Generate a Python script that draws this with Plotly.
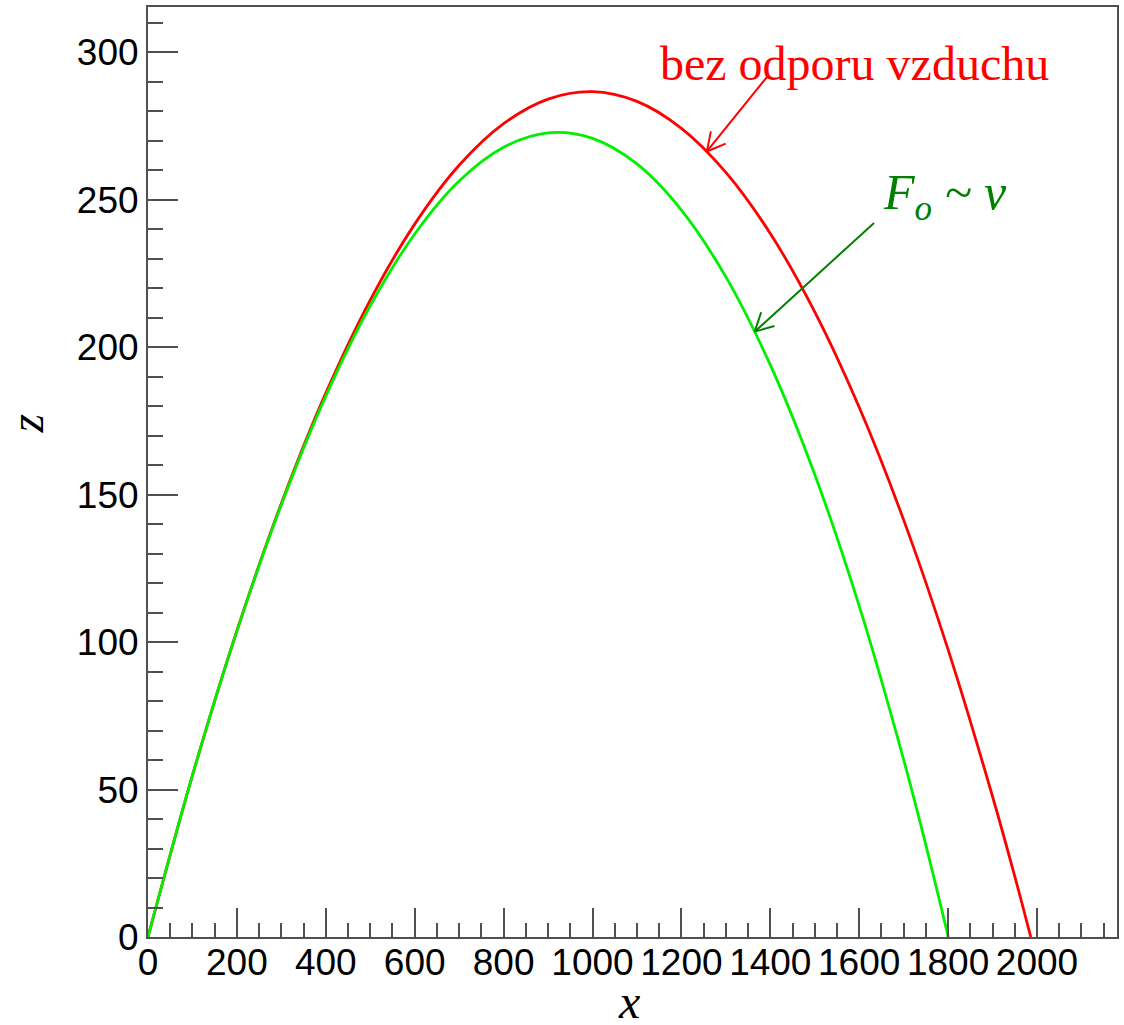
import plotly.graph_objects as go

# trajectory without air resistance (red)
x_red = [0, 100, 200, 300, 400, 500, 600, 700, 800, 900, 1000, 1100, 1200,
         1300, 1400, 1500, 1600, 1700, 1800, 1900, 1950, 1986]
z_red = [0, 54.83, 103.84, 147.04, 184.43, 216.01, 241.77, 261.72, 275.85,
         284.17, 286.68, 283.38, 274.26, 259.33, 238.58, 212.02, 179.64,
         141.46, 97.46, 47.65, 20.56, 0]

# trajectory with linear drag F_o ~ v (green)
x_green = [0, 100, 200, 300, 400, 500, 600, 700, 800, 900, 1000, 1100, 1200,
           1300, 1400, 1500, 1600, 1700, 1750, 1800.5]
z_green = [0, 54.82, 103.72, 146.63, 183.45, 214.09, 238.43, 256.39, 267.84,
           272.70, 270.84, 262.17, 246.55, 223.88, 194.03, 156.87, 112.28,
           60.13, 31.18, 0]

x_range = [0, 2180]
z_range = [0, 315.4]

SERIF = "Liberation Serif, Times New Roman, serif"
SANS = "Liberation Sans, Arial, sans-serif"
AXC = "#505050"
RED = "#ff0000"
DKGREEN = "#008000"

fig = go.Figure()
fig.add_trace(go.Scatter(x=x_red, y=z_red, mode="lines",
                         line=dict(color=RED, width=2.8, shape="spline"),
                         showlegend=False))
fig.add_trace(go.Scatter(x=x_green, y=z_green, mode="lines",
                         line=dict(color="#00f000", width=2.8, shape="spline"),
                         showlegend=False))

axis_common = dict(
    showgrid=False, zeroline=False, showline=True, mirror=True,
    linecolor=AXC, linewidth=2, ticks="inside", tickcolor=AXC, tickwidth=2,
    tickfont=dict(family=SANS, size=37, color="black"),
)

fig.update_xaxes(range=x_range, tick0=0, dtick=200, ticklen=29,
                 ticklabelstandoff=-8,
                 minor=dict(ticks="inside", dtick=50, ticklen=14,
                            tickcolor=AXC, tickwidth=2),
                 **axis_common)
fig.update_yaxes(range=z_range, tick0=0, dtick=50, ticklen=30,
                 minor=dict(ticks="inside", dtick=10, ticklen=15,
                            tickcolor=AXC, tickwidth=2),
                 **axis_common)


def arrow(tip_x, tip_y, tail_x, tail_y, arms, color):
    """Shaft from tail to tip plus an open V head (arms in pixel offsets)."""
    out = [dict(text="", x=tip_x, y=tip_y, xref="x", yref="y",
                ax=tail_x, ay=tail_y, axref="x", ayref="y", showarrow=True,
                arrowhead=0, arrowwidth=2, arrowcolor=color,
                standoff=0, startstandoff=0)]
    for dx, dy in arms:
        out.append(dict(text="", x=tip_x, y=tip_y, xref="x", yref="y",
                        ax=dx, ay=dy, showarrow=True, arrowhead=0,
                        arrowwidth=2, arrowcolor=color,
                        standoff=0, startstandoff=0))
    return out


annotations = [
    # axis titles
    dict(text="<i>x</i>", xref="paper", yref="paper", x=0.4964, y=-0.069,
         showarrow=False, font=dict(family=SERIF, size=48, color="black"),
         xanchor="center", yanchor="middle"),
    dict(text="<i>z</i>", xref="paper", yref="paper", x=-0.125, y=0.552,
         showarrow=False, textangle=-90,
         font=dict(family=SERIF, size=48, color="black"),
         xanchor="center", yanchor="middle"),
    # labels
    dict(text="bez odporu vzduchu", x=1589.5, y=296.4, xref="x", yref="y",
         showarrow=False, font=dict(family=SERIF, size=48, color=RED),
         xanchor="center", yanchor="middle"),
    dict(text="<i>F<sub>o</sub> ~ v</i>", x=1793.9, y=251.4, xref="x", yref="y",
         showarrow=False, font=dict(family=SERIF, size=50, color=DKGREEN),
         xanchor="center", yanchor="middle"),
]
annotations += arrow(1257.3, 266.4, 1396.5, 292.4,
                     [(20.3, -8.5), (4.3, -21.6)], RED)
annotations += arrow(1365, 205.3, 1636.7, 242.6,
                     [(21.2, -6.0), (6.9, -20.9)], DKGREEN)

fig.update_layout(
    width=1124, height=1025,
    margin=dict(l=148, r=5, t=6, b=88),
    paper_bgcolor="white", plot_bgcolor="white",
    annotations=annotations,
    showlegend=False,
)

fig.write_html("out.html")
